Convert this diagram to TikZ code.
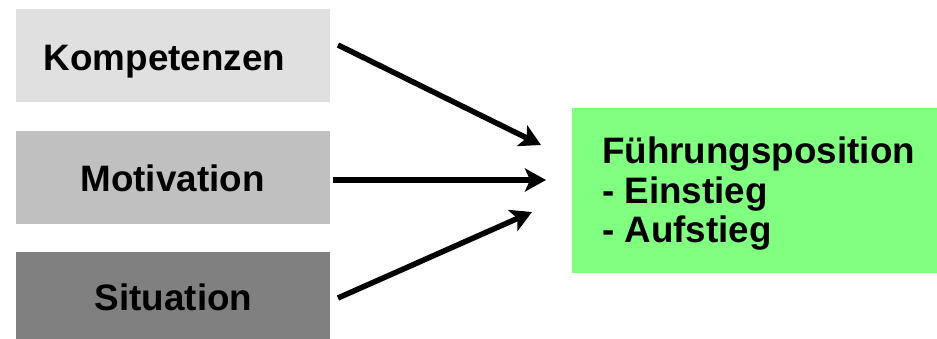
\documentclass[tikz,border=0pt]{standalone}
\usepackage{fontspec}
\setmainfont{Liberation Sans}
\usetikzlibrary{arrows.meta}
\definecolor{boxlight}{HTML}{E0E0E0}
\definecolor{boxmid}{HTML}{C0C0C0}
\definecolor{boxdark}{HTML}{808080}
\definecolor{goalgreen}{HTML}{80FF80}
\begin{document}
\begin{tikzpicture}[x=1pt,y=-1pt,
  factor/.style={rectangle,minimum width=314pt,minimum height=93pt,inner sep=0pt},
  factortext/.style={font=\fontsize{36.8}{40}\selectfont\bfseries,inner sep=0pt,anchor=base},
  goalbox/.style={rectangle,fill=goalgreen,minimum width=365pt,minimum height=165pt,inner sep=0pt},
  goaltext/.style={align=left,inner sep=0pt,font=\fontsize{36.8}{39.5}\selectfont\bfseries},
  link/.style={line width=5.5pt,-{Stealth[length=21pt,width=23pt,inset=5pt]}}]
\useasboundingbox (0,0) rectangle (937,339);
% influencing factors
\node[factor,fill=boxlight] (komp) at (173,55.5) {};
\node[factortext] (kompt) at (164.5,71) {Kompetenzen};
\node[factor,fill=boxmid] (moti) at (173,177.5) {};
\node[factortext] (motit) at (172.5,192) {Motivation};
\node[factor,fill=boxdark,minimum height=87pt] (situ) at (173,295.5) {};
\node[factortext] (situt) at (173.5,310) {Situation};
% target
\node[goalbox] (goal) at (754.5,190.5) {};
\node[goaltext,anchor=base west] (goalt) at (602,243) {Führungsposition\\- Einstieg\\- Aufstieg};
% arrows
\coordinate (ka) at (338,45);
\coordinate (kb) at (541,145);
\coordinate (ma) at (333,180);
\coordinate (mb) at (546,180);
\coordinate (sa) at (338,298);
\coordinate (sb) at (532,212);
\draw[link] (ka) -- (kb);
\draw[link] (ma) -- (mb);
\draw[link] (sa) -- (sb);
\end{tikzpicture}
\end{document}
